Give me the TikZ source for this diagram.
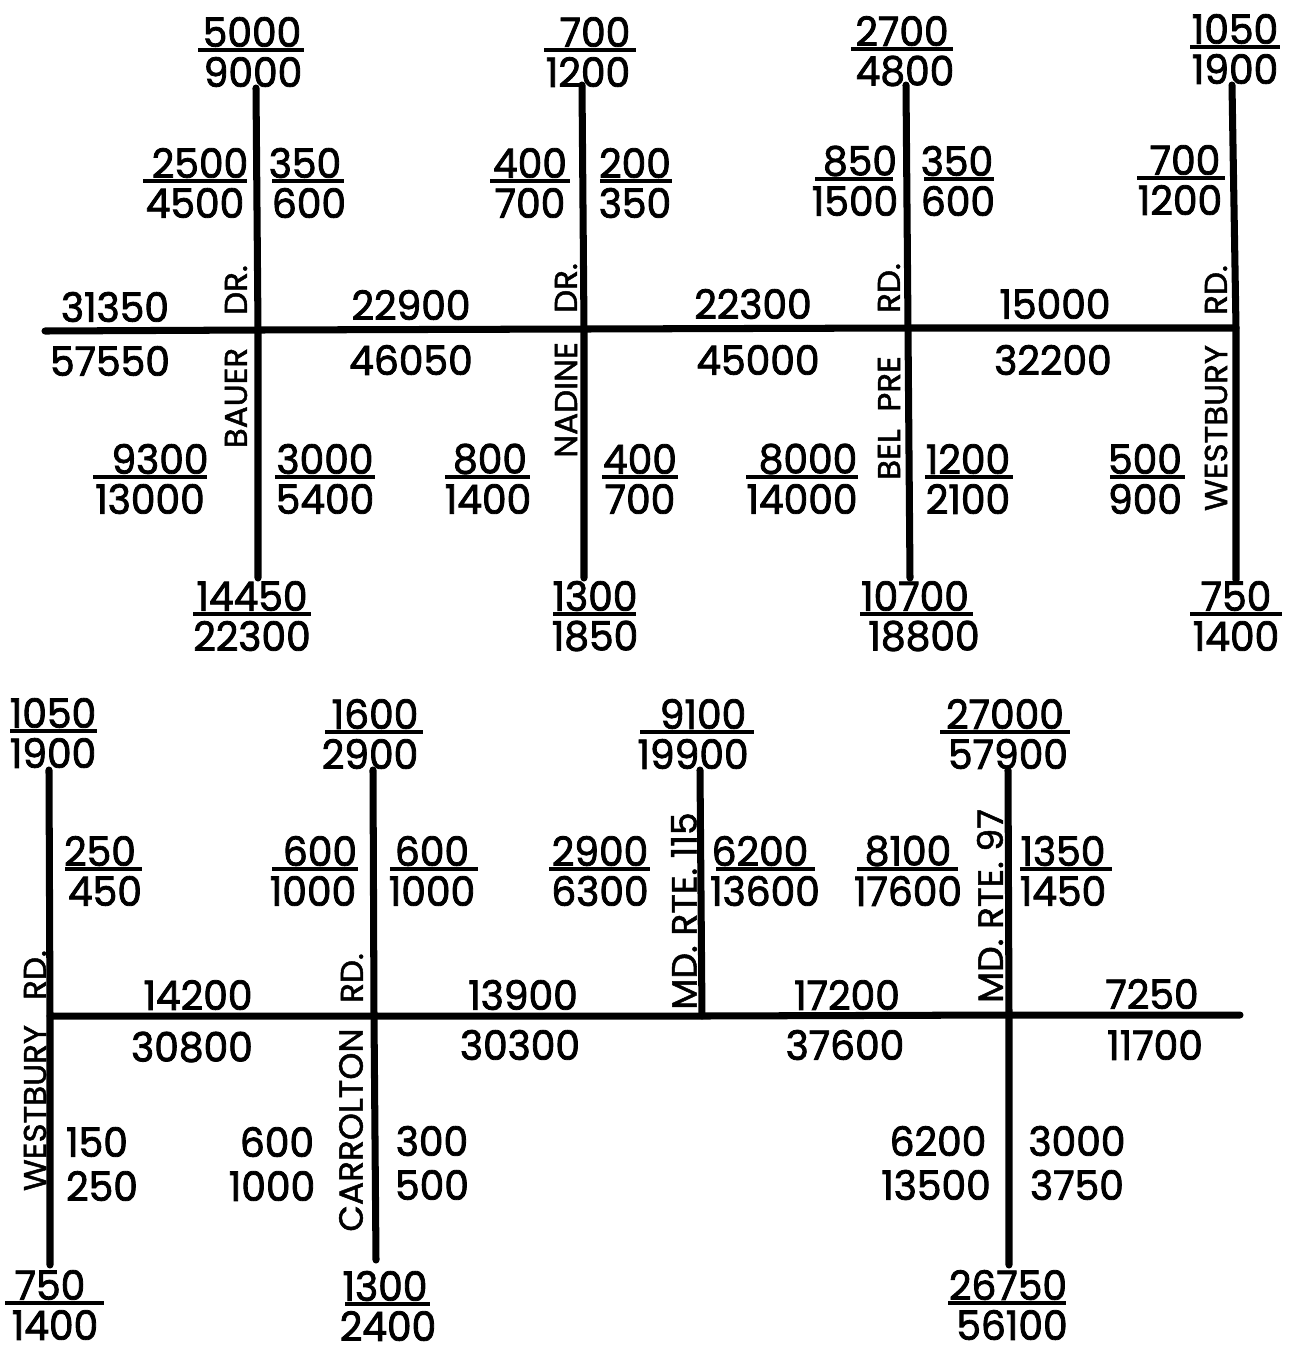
\documentclass[tikz,border=0pt]{standalone}
\usepackage{fontspec}
\newfontfamily\countfont[FakeBold=2,FakeStretch=0.97]{Poppins}
\newfontfamily\roadfont[FakeBold=1.5,FakeStretch=1.03]{Poppins}
\usetikzlibrary{positioning}

% name, x top, x bottom, rule left, rule right, rule y, top count, bottom count
\newcommand{\flowpair}[8]{%
  \node[count] (#1t) at (#2,#6-18) {#7};
  \node[count] (#1b) at (#3,#6+22) {#8};
  \coordinate (#1l) at (#4,#6);
  \coordinate (#1r) at (#5,#6);
  \draw[rulebar] (#1l) -- (#1r);
}

\begin{document}
\begin{tikzpicture}[
  x=0.02cm,y=-0.02cm,
  count/.style={font=\countfont\fontsize{23}{23}\selectfont,inner sep=0pt,text=black},
  roadname/.style={font=\roadfont\fontsize{18}{18}\selectfont,inner sep=0pt,rotate=90,text=black},
  bigroadname/.style={roadname,font=\roadfont\fontsize{19}{19}\selectfont},
  routename/.style={roadname,font=\roadfont\fontsize{20}{20}\selectfont},
  road/.style={line width=4pt,black,line cap=round},
  rulebar/.style={line width=2pt,black}]

  \useasboundingbox (0,0) rectangle (1297,1360);

  % ---- upper strip: roads ----
  \coordinate (upW) at (45,331);
  \coordinate (upE) at (1236,328);
  \coordinate (bauerN) at (256,88);
  \coordinate (bauerX) at (258,330);
  \coordinate (bauerS) at (258,578);
  \coordinate (nadineN) at (582,85);
  \coordinate (nadineX) at (584,329);
  \coordinate (nadineS) at (584,578);
  \coordinate (belpreN) at (906,85);
  \coordinate (belpreX) at (908,328);
  \coordinate (belpreS) at (910,578);
  \coordinate (westN) at (1232,85);
  \coordinate (westS) at (1236,580);
  \draw[road] (upW) -- (bauerX) -- (nadineX) -- (belpreX) -- (upE);
  \draw[road] (bauerN) -- (bauerX) -- (bauerS);
  \draw[road] (nadineN) -- (nadineX) -- (nadineS);
  \draw[road] (belpreN) -- (belpreX) -- (belpreS);
  \draw[road] (westN) -- (upE) -- (westS);

  % ---- upper strip: road names ----
  \node[roadname] (bauerdr) at (236,290) {DR.};
  \node[roadname] (bauer) at (236,398) {BAUER};
  \node[roadname] (nadinedr) at (566,288) {DR.};
  \node[roadname] (nadine) at (566,400) {NADINE};
  \node[roadname] (belprerd) at (889,288) {RD.};
  \node[roadname] (belpre) at (889,418) {BEL\kern10pt PRE};
  \node[roadname] (westrd) at (1216,290) {RD.};
  \node[roadname] (west) at (1216,428) {WESTBURY};

  % ---- upper strip: counts ----
  \flowpair{a}{252}{253}{198}{304}{50}{5000}{9000}
  \flowpair{b}{200}{195}{143}{247}{181}{2500}{4500}
  \flowpair{c}{305}{309}{272}{344}{181}{350}{600}
  \flowpair{d}{160}{150}{93}{207}{477}{9300}{13000}
  \flowpair{e}{325}{325}{275}{375}{477}{3000}{5400}
  \flowpair{f}{252}{252}{193}{311}{614}{14450}{22300}
  \flowpair{g}{595}{588}{544}{636}{50}{700}{1200}
  \flowpair{h}{530}{530}{490}{570}{181}{400}{700}
  \flowpair{i}{635}{635}{600}{672}{181}{200}{350}
  \flowpair{j}{490}{488}{445}{530}{477}{800}{1400}
  \flowpair{k}{640}{640}{602}{678}{477}{400}{700}
  \flowpair{l}{595}{595}{553}{636}{614}{1300}{1850}
  \flowpair{m}{902}{905}{851}{953}{49}{2700}{4800}
  \flowpair{n}{860}{855}{815}{893}{179}{850}{1500}
  \flowpair{o}{957}{958}{924}{994}{179}{350}{600}
  \flowpair{p}{808}{802}{746}{858}{477}{8000}{14000}
  \flowpair{q}{968}{968}{925}{1013}{477}{1200}{2100}
  \flowpair{r}{915}{924}{860}{973}{614}{10700}{18800}
  \flowpair{s}{1235}{1235}{1190}{1280}{47}{1050}{1900}
  \flowpair{t}{1185}{1180}{1137}{1225}{178}{700}{1200}
  \flowpair{u}{1145}{1145}{1110}{1185}{477}{500}{900}
  \flowpair{v}{1236}{1236}{1190}{1282}{614}{750}{1400}
  \node[count] (upa) at (115,307) {31350};
  \node[count] (upb) at (110,361) {57550};
  \node[count] (upc) at (411,305) {22900};
  \node[count] (upd) at (411,360) {46050};
  \node[count] (upe) at (753,304) {22300};
  \node[count] (upf) at (758,360) {45000};
  \node[count] (upg) at (1055,304) {15000};
  \node[count] (uph) at (1053,360) {32200};

  % ---- lower strip: roads ----
  \coordinate (lowE) at (1240,1015);
  \coordinate (westbN) at (49,770);
  \coordinate (westbX) at (50,1016);
  \coordinate (westbS) at (50,1265);
  \coordinate (carrN) at (373,770);
  \coordinate (carrX) at (374,1016);
  \coordinate (carrS) at (376,1260);
  \coordinate (rteaN) at (700,770);
  \coordinate (rteaX) at (702,1016);
  \coordinate (rtebN) at (1008,770);
  \coordinate (rtebX) at (1009,1015);
  \coordinate (rtebS) at (1009,1265);
  \draw[road] (westbX) -- (carrX) -- (rteaX) -- (rtebX) -- (lowE);
  \draw[road] (westbN) -- (westbX) -- (westbS);
  \draw[road] (carrN) -- (carrX) -- (carrS);
  \draw[road] (rteaN) -- (rteaX);
  \draw[road] (rtebN) -- (rtebX) -- (rtebS);

  % ---- lower strip: road names ----
  \node[roadname] (westbrd) at (35,975) {RD.};
  \node[roadname] (westb) at (35,1108) {WESTBURY};
  \node[roadname] (carrrd) at (352,978) {RD.};
  \node[bigroadname] (carr) at (351,1130) {CARROLTON};
  \node[routename] (rtea) at (684,911) {MD. RTE. 115};
  \node[routename] (rteb) at (990,906) {MD. RTE. 97};

  % ---- lower strip: counts ----
  \flowpair{aa}{53}{53}{10}{97}{731}{1050}{1900}
  \flowpair{ab}{375}{370}{325}{423}{732}{1600}{2900}
  \flowpair{ac}{703}{693}{640}{754}{732}{9100}{19900}
  \flowpair{ad}{1005}{1008}{940}{1070}{732}{27000}{57900}
  \flowpair{ae}{100}{105}{65}{142}{869}{250}{450}
  \flowpair{af}{320}{313}{272}{358}{869}{600}{1000}
  \flowpair{ag}{432}{432}{390}{478}{869}{600}{1000}
  \flowpair{ah}{600}{600}{549}{650}{869}{2900}{6300}
  \flowpair{ai}{760}{765}{716}{815}{869}{6200}{13600}
  \flowpair{aj}{908}{908}{857}{958}{869}{8100}{17600}
  \flowpair{ak}{1063}{1063}{1020}{1112}{869}{1350}{1450}
  \flowpair{al}{50}{55}{5}{104}{1303}{750}{1400}
  \flowpair{am}{385}{388}{345}{430}{1304}{1300}{2400}
  \flowpair{an}{1008}{1012}{948}{1066}{1303}{26750}{56100}
  \node[count] (lowa) at (198,995) {14200};
  \node[count] (lowb) at (192,1047) {30800};
  \node[count] (lowc) at (523,995) {13900};
  \node[count] (lowd) at (520,1045) {30300};
  \node[count] (lowe) at (847,995) {17200};
  \node[count] (lowf) at (845,1045) {37600};
  \node[count] (lowg) at (1152,994) {7250};
  \node[count] (lowh) at (1155,1045) {11700};
  \node[count] (lowi) at (97,1142) {150};
  \node[count] (lowj) at (102,1186) {250};
  \node[count] (lowk) at (277,1142) {600};
  \node[count] (lowl) at (272,1186) {1000};
  \node[count] (lowm) at (432,1141) {300};
  \node[count] (lown) at (432,1185) {500};
  \node[count] (lowo) at (938,1141) {6200};
  \node[count] (lowp) at (936,1185) {13500};
  \node[count] (lowq) at (1077,1141) {3000};
  \node[count] (lowr) at (1077,1185) {3750};
\end{tikzpicture}
\end{document}
